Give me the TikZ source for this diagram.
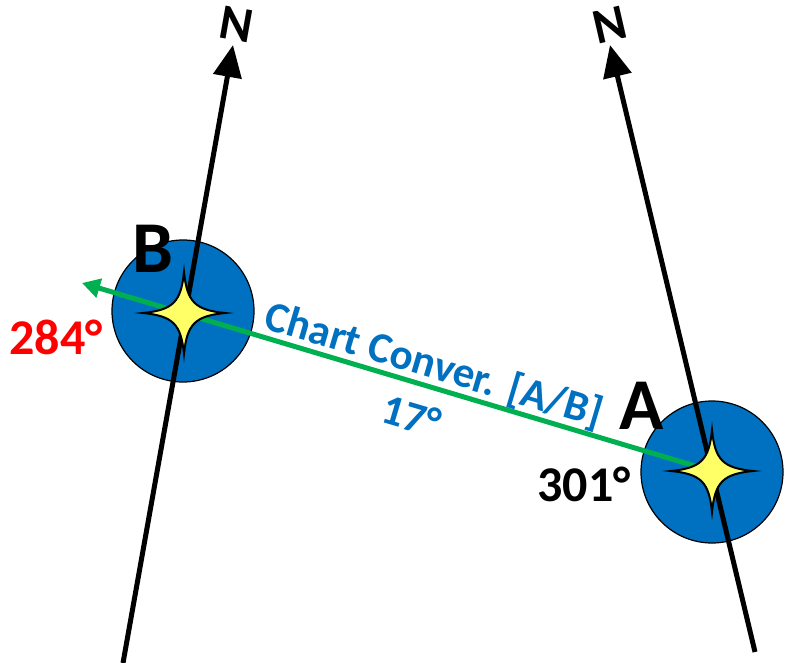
\documentclass[tikz,border=0pt]{standalone}
\usepackage{fontspec}
\setmainfont{Carlito}
\usetikzlibrary{arrows.meta}
\definecolor{posblue}{RGB}{0,112,192}
\definecolor{convgreen}{RGB}{0,176,80}
\definecolor{staryellow}{RGB}{255,255,102}
\begin{document}
\begin{tikzpicture}[x=1pt,y=-1pt,
    meridian/.style={line width=5pt, -{Triangle[length=32pt,width=28pt]}},
    posdisc/.style={circle, fill=posblue, draw=black, line width=1.2pt, minimum size=142pt, inner sep=0pt},
    sparkle/.style={fill=staryellow, draw=black, line width=2pt, line join=miter},
    bigletter/.style={font=\bfseries\fontsize{73}{75}\selectfont},
    bearing/.style={font=\bfseries\fontsize{50}{52}\selectfont},
    northtag/.style={font=\bfseries\fontsize{50}{52}\selectfont},
    convlabel/.style={font=\bfseries\fontsize{43}{45}\selectfont, text=posblue, rotate=-16.5}]
        \useasboundingbox (0,0) rectangle (794,663);

        % Position discs
        \node[posdisc] (discB) at (183,311) {};
        \node[posdisc] (discA) at (712,472) {};
        \coordinate (starB) at (184,313);
        \coordinate (starA) at (712,471);

        % Meridians
        \coordinate (botB) at (123,663);
        \coordinate (topB) at (233,45);
        \coordinate (botA) at (755,652);
        \coordinate (topA) at (610,45);
        \draw[meridian] (botB) -- (topB);
        \draw[meridian] (botA) -- (topA);
        \node[northtag, rotate=-10] (nB) at (237,24) {N};
        \node[northtag, rotate=13] (nA) at (610,25) {N};

        % Conversion line A to B
        \coordinate (convEnd) at (82,283);
        \draw[convgreen, line width=5pt, -{Triangle[length=18pt,width=19pt]}] (starA) -- (convEnd);

        % Stars
        \foreach \s in {starA,starB}
            \draw[sparkle, shift={(\s)}] (41,0) .. controls (11,3) and (3,11) .. (0,41)
                .. controls (-3,11) and (-11,3) .. (-41,0)
                .. controls (-11,-3) and (-3,-11) .. (0,-41)
                .. controls (3,-11) and (11,-3) .. (41,0) -- cycle;

        % Labels
        \node[bigletter] (labB) at (153,249) {B};
        \node[bigletter] (labA) at (642,406) {A};
        \node[bearing, red] (brgB) at (56,337) {284°};
        \node[bearing] (brgA) at (584,484) {301°};
        \node[convlabel] (convtxt) at (434,366) {Chart Conver. [A/B]};
        \node[convlabel] (convval) at (412,416) {17°};
    \end{tikzpicture}
\end{document}
